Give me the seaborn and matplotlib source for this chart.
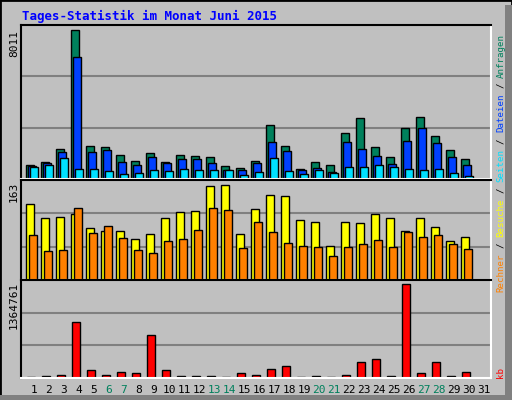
import numpy as np
import pandas as pd
import matplotlib
matplotlib.use("Agg")
import matplotlib.pyplot as plt
import seaborn as sns
from matplotlib.patches import Rectangle

days = list(range(1, 32))
U1 = 8011 / 442
hits = [43,52,89,442,97,94,70,55,77,52,70,67,64,40,34,55,160,97,31,52,43,136,181,94,64,151,184,127,85,58,0]
files = [40,49,80,364,79,85,52,43,64,49,58,58,49,28,28,49,109,82,28,34,22,109,88,67,46,112,151,106,64,43,0]
pages = [37,43,61,31,31,25,16,19,28,25,31,28,28,28,13,22,61,25,16,28,19,37,37,43,37,31,28,31,19,10,0]
U2 = 163 / 277
visits = [220,181,184,190,151,142,142,118,133,181,196,199,274,277,133,205,247,244,175,169,100,169,166,190,181,142,181,154,112,124,0]
hosts = [130,85,88,208,136,157,121,88,79,112,118,145,208,202,94,169,139,106,100,97,70,97,103,115,97,139,124,130,103,91,0]
U3 = 1364761 / 274
kb = [4,7,10,163,22,10,19,16,127,22,7,7,7,4,16,10,25,34,4,7,4,10,46,55,7,274,16,46,7,19,0]
weekend = [6, 7, 13, 14, 20, 21, 27, 28]

df = pd.DataFrame({"day": days,
                   "hits": np.array(hits) * U1, "files": np.array(files) * U1, "pages": np.array(pages) * U1,
                   "visits": np.array(visits) * U2, "hosts": np.array(hosts) * U2, "kb": np.array(kb) * U3})

sns.set_theme(style="white")
plt.rcParams["font.family"] = ["DejaVu Sans Mono", "DejaVu Sans"]
BG = "#c0c0c0"
fig = plt.figure(figsize=(5.12, 4.0), dpi=100, facecolor=BG)

fig.patches.append(Rectangle((0, 0), 1, 1, transform=fig.transFigure, fill=False, ec="black", lw=2))
fig.patches.append(Rectangle((505/512, 0), 7/512, 395/400, transform=fig.transFigure, fc="#808080", ec="none"))
fig.patches.append(Rectangle((0, 0), 505/512, 5/400, transform=fig.transFigure, fc="#808080", ec="none"))

L, W = 21/512, 470/512
xlim = (1 - 5/15, 1 - 5/15 + 470/15)
panels = [(25, 179), (180, 280), (280, 378)]
axes = []
for top, bot in panels:
    ax = fig.add_axes([L, 1 - bot/400, W, (bot - top)/400], facecolor=BG)
    axes.append(ax)

def bars(ax, col, off, width, color):
    x = df["day"] + off/15
    ax.bar(x, df[col], width=width/15, align="edge", color=color, edgecolor="black", linewidth=1.0)

ax1, ax2, ax3 = axes
bars(ax1, "hits", 0, 8, "#00805c")
bars(ax1, "files", 2, 8, "#0040ff")
bars(ax1, "pages", 4, 7.5, "#00e0ff")
bars(ax2, "visits", 0, 8, "#ffff00")
bars(ax2, "hosts", 3, 8, "#ff8000")
bars(ax3, "kb", 1, 8, "#ff0000")

for ax, col, frac in [(ax1, "hits", 0.965), (ax2, "visits", 0.955), (ax3, "kb", 0.955)]:
    ymax = df[col].max() / frac
    ax.set_ylim(0, ymax)
    ax.set_xlim(*xlim)
    for k in (1, 2):
        ax.axhline(ymax * k / 3, color="#808080", lw=1.5, zorder=0)
    ax.set_xticks([]); ax.set_yticks([])
    for s in ("top", "left"):
        ax.spines[s].set_color("black"); ax.spines[s].set_linewidth(1.5)
    for s in ("bottom", "right"):
        ax.spines[s].set_color("white"); ax.spines[s].set_linewidth(1.5)

fig.text(22/512, 1 - 16/400, "Tages-Statistik im Monat Juni 2015", color="#0000ff",
         fontsize=9, fontweight="bold", va="center", ha="left")

for label, y in [("8011", 30), ("163", 182), ("1364761", 282)]:
    fig.text(14/512, 1 - y/400, label, rotation=90, ha="center", va="top", fontsize=8, color="black")

for d in days:
    c = "#00805c" if d in weekend else "black"
    ax3.text(d + 8/15, -0.12, str(d), transform=ax3.get_xaxis_transform(), ha="center", va="center",
             fontsize=8, color=c)

FS = 6.6
fig.text(501/512, 1 - 378/400, "kb", rotation=90, ha="center", va="bottom", fontsize=FS, color="#ff0000")
seq = [("Rechner", "#ff8000"), ("/", "#000000"), ("Besuche", "#ffff00"), ("/", "#000000"),
       ("Seiten", "#00e0ff"), ("/", "#000000"), ("Dateien", "#0040ff"), ("/", "#000000"),
       ("Anfragen", "#00805c")]
cw = 0.6 * FS * 100 / 72
y = 292
for txt, c in seq:
    fig.text(501/512, 1 - y/400, txt, rotation=90, ha="center", va="bottom", fontsize=FS, color=c)
    y -= cw * (len(txt) + 1)

fig.savefig("out.png", dpi=100, facecolor=BG)
